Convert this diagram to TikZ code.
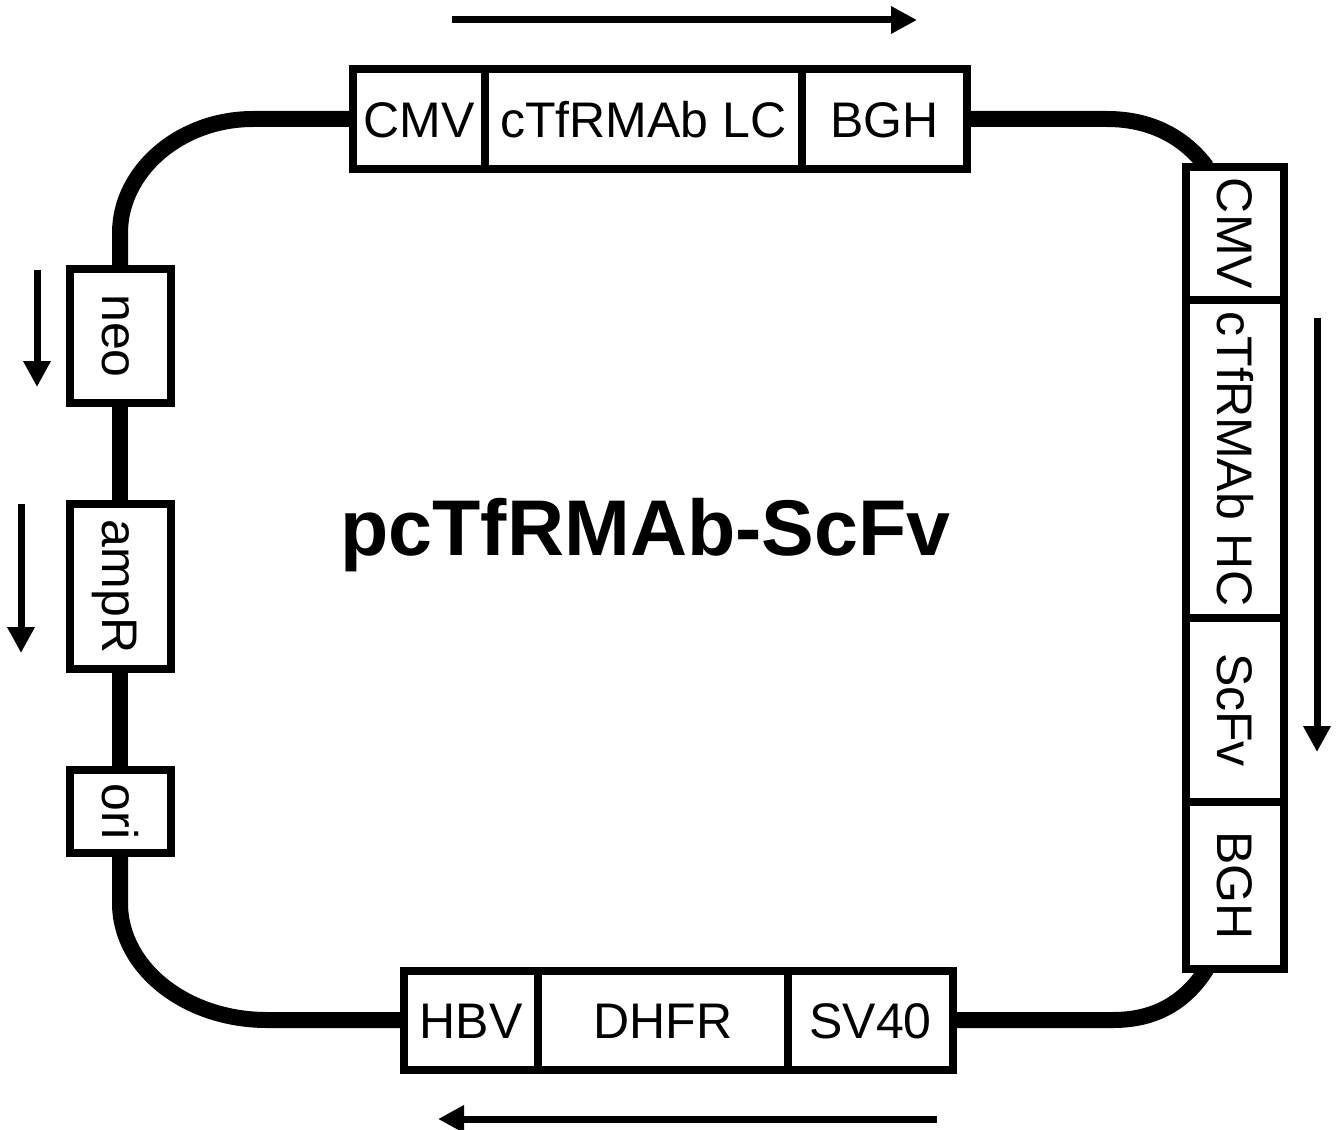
\documentclass[tikz,border=0pt]{standalone}
\usepackage{fontspec}
\setmainfont{Liberation Sans}
\usetikzlibrary{arrows.meta,calc,backgrounds}
\begin{document}
\begin{tikzpicture}[x=1pt,y=-1pt,
  seg/.style={draw, fill=white, line width=8pt, inner sep=0pt, outer sep=0pt,
    text height=36pt, text depth=0pt, font=\fontsize{50}{60}\selectfont},
  hseg/.style={seg, minimum height=99pt},
  vseg/.style={seg, rotate=-90, minimum height=100pt},
  plasmid/.style={line width=16pt},
  dirarrow/.style={line width=7pt, -{Triangle[width=26pt,length=26pt]}},
  plasmidname/.style={font=\bfseries\fontsize{79}{90}\selectfont, inner sep=0pt}]
\useasboundingbox (0,0) rectangle (1340,1129);

% top cassette
\node[hseg, minimum width=132pt] (cmv1) at (419,119) {CMV};
\node[hseg, minimum width=317pt] (lc1) at (643.5,119) {cTfRMAb LC};
\node[hseg, minimum width=165pt] (bgh1) at (884.5,119) {BGH};

% right cassette
\node[vseg, minimum width=133pt, minimum height=98pt] (cmv2) at (1235,233.5) {CMV};
\node[vseg, minimum width=318pt, minimum height=98pt] (hc2) at (1235,459) {cTfRMAb HC};
\node[vseg, minimum width=184pt, minimum height=98pt] (scfv2) at (1235,710) {ScFv};
\node[vseg, minimum width=167pt, minimum height=98pt] (bgh2) at (1235,885.5) {BGH};

% bottom cassette
\node[hseg, minimum width=134pt] (hbv) at (471,1020) {HBV};
\node[hseg, minimum width=250pt] (dhfr) at (663,1020) {DHFR};
\node[hseg, minimum width=165pt] (sv40) at (870.5,1020) {SV40};

% left elements
\node[vseg, minimum width=134pt, minimum height=101pt] (neo) at (120,336) {neo};
\node[vseg, minimum width=165pt, minimum height=101pt] (ampr) at (120,586.5) {ampR};
\node[vseg, minimum width=83pt, minimum height=101pt] (ori) at (120,811.5) {ori};

% title
\node[plasmidname, anchor=base] (name) at (645.5,555) {pcTfRMAb-ScFv};

% plasmid backbone
\begin{scope}[on background layer]
\draw[plasmid] (cmv1.west) -- (253,119) .. controls (180,119) and (120,171) .. (120,233) -- (neo.west);
\draw[plasmid] (neo.east) -- (ampr.west);
\draw[plasmid] (ampr.east) -- (ori.west);
\draw[plasmid] (ori.east) -- (120,903) .. controls (120,968) and (186,1020) .. (267,1020) -- (hbv.west);
\draw[plasmid] (sv40.east) -- (1113,1020) .. controls (1160,1020) and (1188,998) .. ($(bgh2.south east)!0.21!(bgh2.north east)$);
\draw[plasmid] (bgh1.east) -- (1107,119) .. controls (1152,119) and (1185,138) .. ($(cmv2.south west)!0.21!(cmv2.north west)$);
\end{scope}

% direction arrows
\coordinate (ta1) at (452,20);   \coordinate (ta2) at (917,20);
\coordinate (ra1) at (1317,318); \coordinate (ra2) at (1317,752);
\coordinate (ba1) at (937,1119); \coordinate (ba2) at (438,1119);
\coordinate (na1) at (37,270);   \coordinate (na2) at (37,387);
\coordinate (aa1) at (21,504);   \coordinate (aa2) at (21,653);
\draw[dirarrow] (ta1) -- (ta2);
\draw[dirarrow] (ra1) -- (ra2);
\draw[dirarrow] (ba1) -- (ba2);
\draw[dirarrow] (na1) -- (na2);
\draw[dirarrow] (aa1) -- (aa2);
\end{tikzpicture}
\end{document}
